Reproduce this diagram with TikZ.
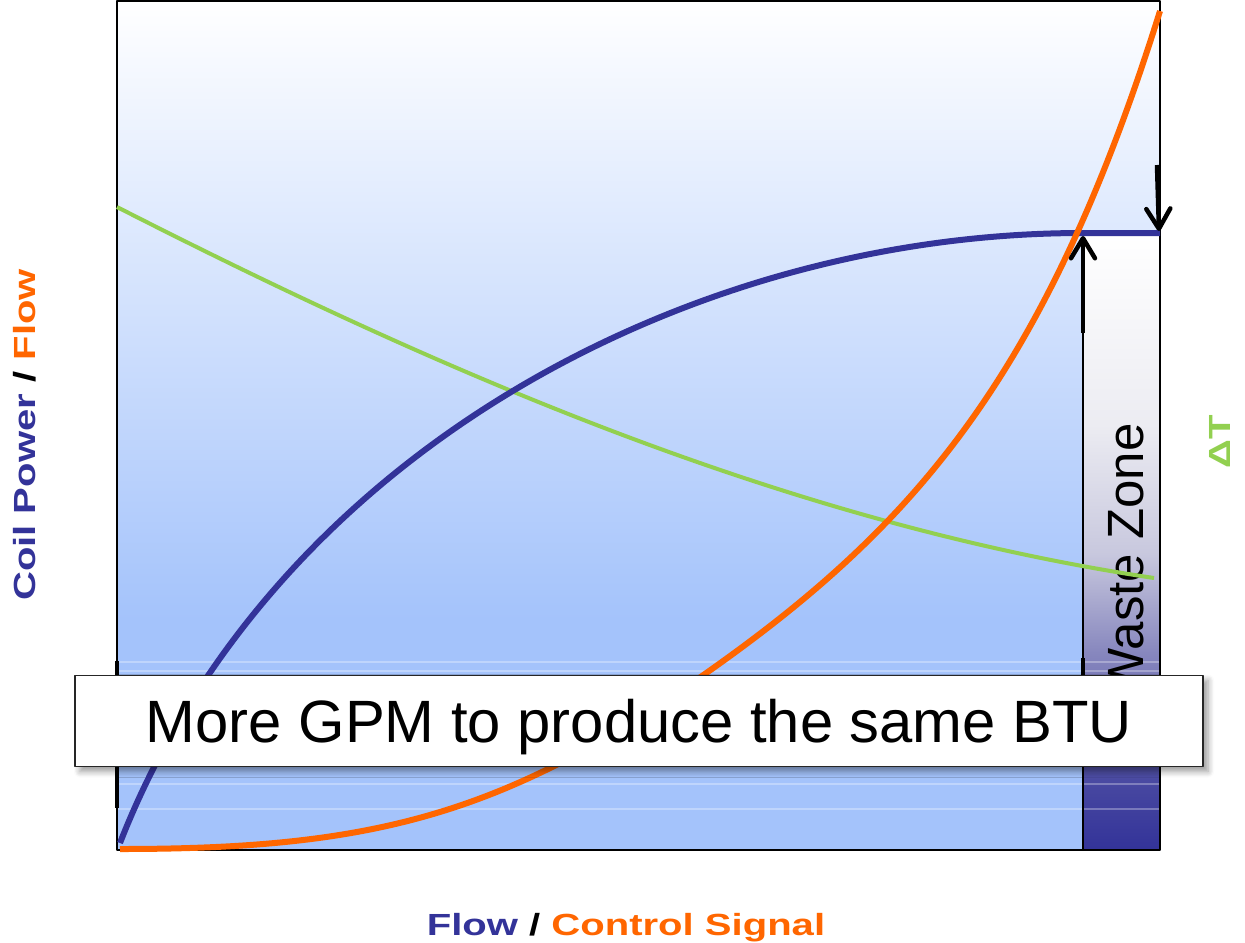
\documentclass[tikz,border=0pt]{standalone}
\usepackage{fontspec}
\setmainfont{Liberation Sans}
\newfontfamily\axisfont[FakeStretch=1.31]{Liberation Sans}
\usetikzlibrary{arrows.meta,shadows.blur}

\definecolor{coilblue}{HTML}{333399}
\definecolor{signalorange}{HTML}{FF6600}
\definecolor{deltagreen}{HTML}{92D050}
\definecolor{panelblue}{RGB}{164,195,251}
\definecolor{wastehigh}{RGB}{236,236,242}
\definecolor{wastemid}{RGB}{200,200,222}
\definecolor{wastelow}{RGB}{135,135,190}
\definecolor{wastedeep}{RGB}{70,70,160}
% 浪费区竖向渐变（25bp 底 … 75bp 顶）
\pgfdeclareverticalshading{wastezone}{100bp}{color(0bp)=(coilblue); color(25bp)=(coilblue);
  color(30bp)=(wastedeep); color(41bp)=(wastelow); color(49bp)=(wastemid);
  color(59.5bp)=(wastehigh); color(75bp)=(white); color(100bp)=(white)}

\begin{document}
\begin{tikzpicture}[x=0.1mm,y=-0.1mm,line cap=butt,line join=round,
    curve/.style={line width=0.6mm},
    marker/.style={line width=0.45mm,-{Straight Barb[length=2mm,width=2.4mm,round]}},
    axislabel/.style={font=\axisfont\bfseries\fontsize{8.7pt}{10pt}\selectfont,inner sep=0pt},
    msgbox/.style={draw=black!85,line width=0.15mm,fill=white,inner sep=0pt,
      minimum width=112.8mm,minimum height=9.1mm,text depth=0pt,
      font=\fontsize{17pt}{20pt}\selectfont,
      blur shadow={shadow xshift=0.5mm,shadow yshift=-0.5mm,shadow blur radius=0.6mm,shadow blur steps=6}}]
  \useasboundingbox (0,0) rectangle (1245,942);   % 画布 1245×942，单位 0.1mm
  % ---- 绘图区背景：上白下浅蓝 ----
  \fill[top color=white,bottom color=panelblue] (117,0) rectangle (1160,620);
  \fill[panelblue] (117,619) rectangle (1160,850);
  % ---- 浪费区竖条 ----
  \fill[shading=wastezone] (1083,233) rectangle (1160,850);
  \foreach \y in {662,671,784,809}
    \draw[white,opacity=0.3,line width=0.15mm] (117,\y) -- (1160,\y);   % 淡白横线
  \node[font=\fontsize{14.5pt}{17pt}\selectfont,rotate=90,anchor=base,inner sep=0pt] (waste) at (1143,560) {Waste Zone};
  % ---- 边框 ----
  \draw[line width=0.2mm] (117,1) rectangle (1160,850);
  \draw[line width=0.15mm] (1083,333) -- (1083,850);
  \draw[line width=0.35mm] (117,661) -- (117,808);
  \draw[line width=0.35mm] (1083,658) -- (1083,676);
  % ---- 三条曲线 ----
  % ΔT（绿）
  \draw[curve,deltagreen,line width=0.4mm]
    (117,207) .. controls (467,385.5) and (804,525.5) .. (1154,578);
  % 盘管功率（蓝），右端水平
  \draw[curve,coilblue]
    (120,843) .. controls (270,459) and (683,233) .. (1083,233) -- (1160,233);
  % 流量（橙）
  \draw[curve,signalorange]
    (120,849) .. controls (370,849) and (502,816) .. (702,676)
              .. controls (912,529) and (1045,379) .. (1160,11);
  % ---- 差值箭头 ----
  \coordinate (upfoot) at (1083,333);
  \coordinate (uptip)  at (1083,236);
  \coordinate (dnfoot) at (1157,165);
  \coordinate (dntip)  at (1159,231);
  \draw[marker] (upfoot) -- (uptip);
  \draw[marker] (dnfoot) -- (dntip);
  % ---- 说明框 ----
  \node[msgbox] (msg) at (639,721) {More GPM to produce the same BTU};
  % ---- 坐标轴标题 ----
  \node[axislabel,rotate=90,anchor=base] (ylab) at (35,435)
    {\textcolor{coilblue}{Coil Power} / \textcolor{signalorange}{Flow}};
  \node[axislabel,anchor=base] (xlab) at (626,935)
    {\textcolor{coilblue}{Flow} / \textcolor{signalorange}{Control Signal}};
  \node[axislabel,rotate=90,anchor=base,text=deltagreen] (dt) at (1230,442) {ΔT};
\end{tikzpicture}
\end{document}
